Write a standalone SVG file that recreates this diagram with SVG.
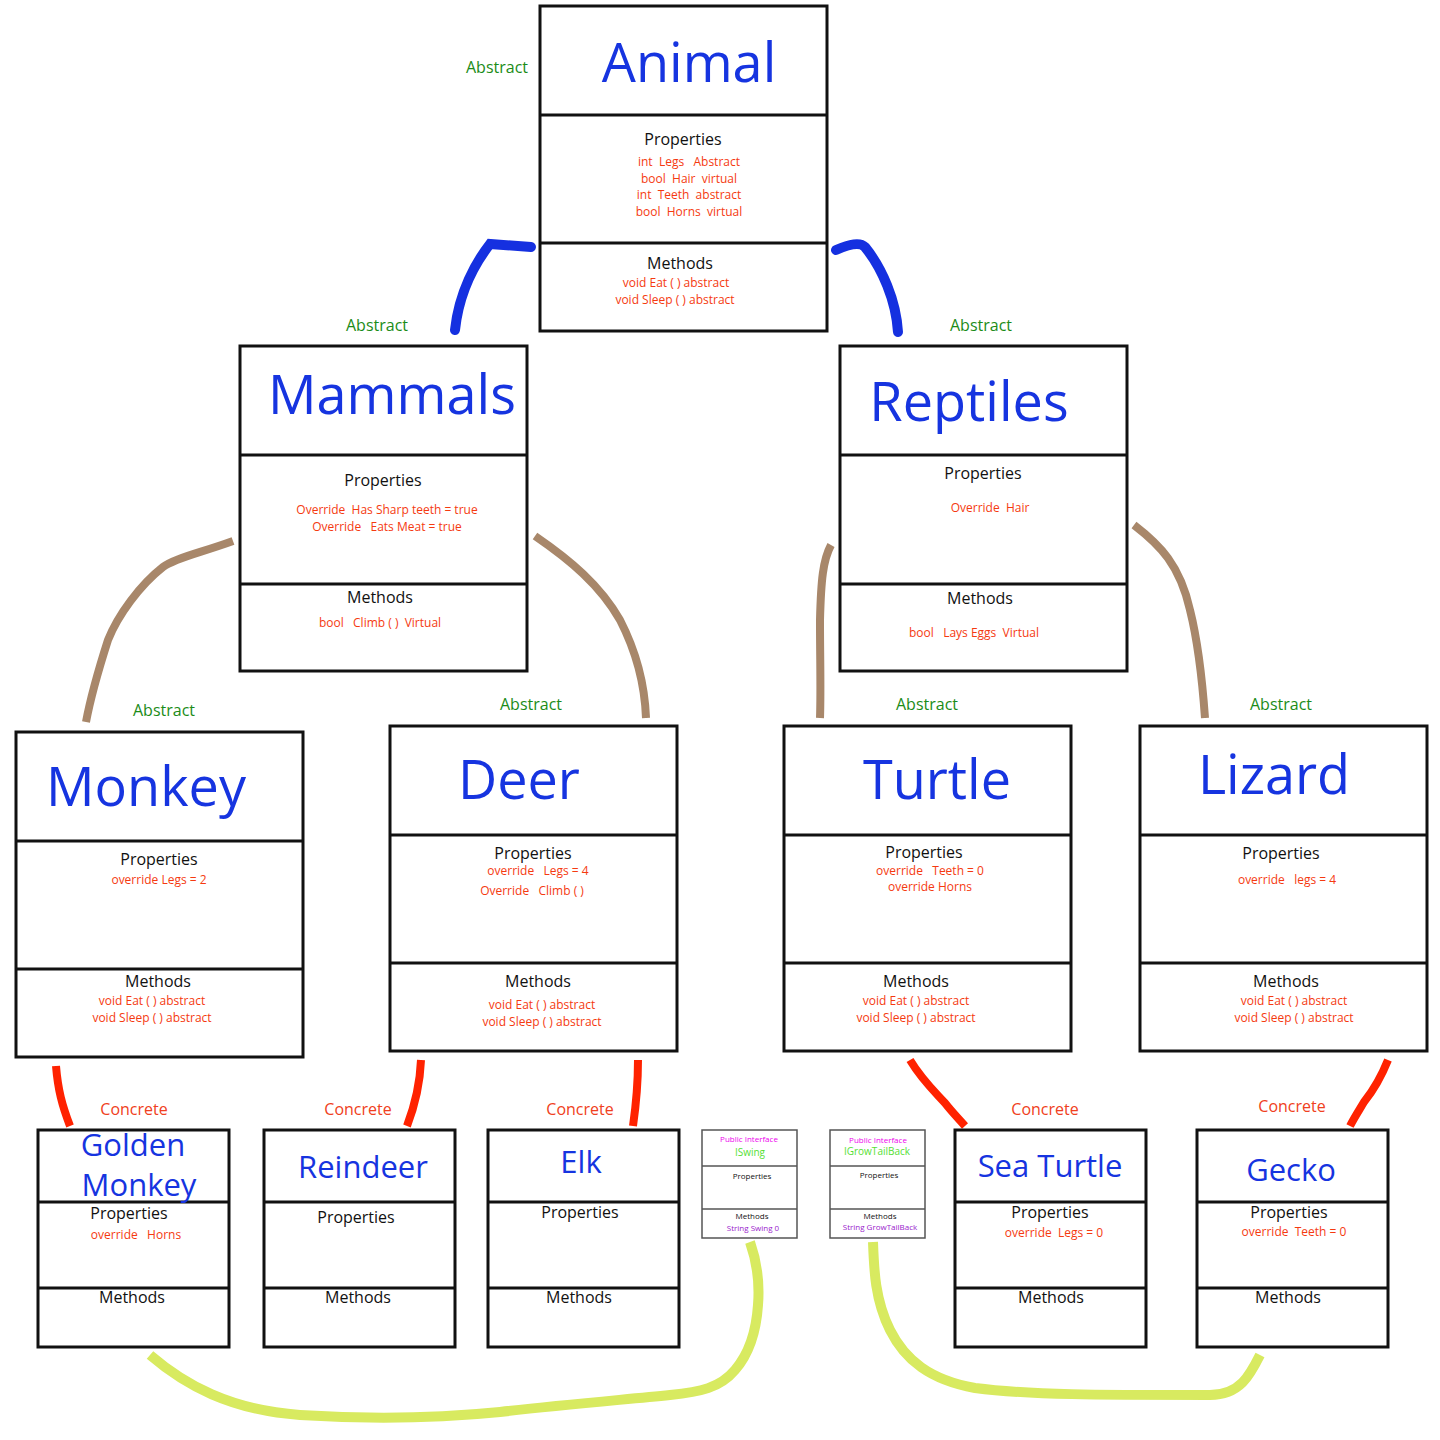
<svg xmlns="http://www.w3.org/2000/svg" width="1440" height="1440" viewBox="0 0 1440 1440">
<style>
text{font-family:"Open Sans","Noto Sans","Liberation Sans",sans-serif;text-anchor:middle;white-space:pre}
.box{fill:#fff;stroke:#111;stroke-width:3}
.sbox{fill:#fff;stroke:#555;stroke-width:1.5}
.div{stroke:#111;stroke-width:3}
.sdiv{stroke:#555;stroke-width:1.5}
.t{fill:#1634e0;font-size:54px}
.bt{fill:#1634e0;font-size:31px}
.h{fill:#111;font-size:16px}
.r{fill:#f53a10;font-size:12px}
.ab{fill:#1b8c18;font-size:16px}
.cc{fill:#f04020;font-size:16px}
.pi{fill:#ee00ee;font-size:8px}
.ig{fill:#55e033;font-size:10px}
.sh{fill:#111;font-size:8px}
.sm{fill:#9922cc;font-size:8px}
.blue{fill:none;stroke:#1530e0;stroke-width:10;stroke-linecap:round}
.brown{fill:none;stroke:#a8876a;stroke-width:8}
.red{fill:none;stroke:#ff2200;stroke-width:8}
.yel{fill:none;stroke:#d8ea60;stroke-width:10}
</style>

<g id="connectors">
<path class="blue" d="M531 247 L490 244 C476 262 459 292 455 330"/>
<path class="blue" d="M836 250 C850 244 860 242 865 247 C882 268 896 300 898 332"/>
<path class="brown" d="M233 541 C200 553 175 558 163 567 C140 585 118 615 108 640 C100 665 92 690 86 722"/>
<path class="brown" d="M535 536 C570 560 600 585 620 620 C638 655 645 690 646 718"/>
<path class="brown" d="M831 545 C823 560 821 580 820 620 C820 660 821 690 820 718"/>
<path class="brown" d="M1134 525 C1160 545 1180 565 1190 610 C1200 650 1203 690 1205 718"/>
<path class="red" d="M56 1066 C58 1090 62 1105 70 1126"/>
<path class="red" d="M421 1060 C420 1085 415 1105 407 1126"/>
<path class="red" d="M638 1060 C638 1085 636 1105 633 1126"/>
<path class="red" d="M910 1060 C922 1080 935 1092 945 1103 C952 1112 958 1118 965 1126"/>
<path class="red" d="M1388 1060 C1380 1080 1372 1092 1364 1102 C1358 1112 1354 1118 1350 1126"/>
<path class="yel" d="M750 1242 C757 1262 760 1280 758 1305 C756 1335 748 1355 735 1370 C720 1388 700 1392 670 1395 C620 1400 560 1405 500 1412 C440 1418 380 1420 300 1415 C230 1410 185 1385 150 1355"/>
<path class="yel" d="M873 1242 C874 1270 875 1300 890 1330 C905 1360 930 1380 975 1388 C1030 1395 1100 1395 1210 1395 C1240 1395 1250 1375 1260 1355"/>
</g>

<g id="animal">
<rect class="box" x="540" y="6" width="287" height="325"/>
<line class="div" x1="540" y1="115" x2="827" y2="115"/>
<line class="div" x1="540" y1="243" x2="827" y2="243"/>
<text class="ab" x="497" y="73">Abstract</text>
<text class="t" x="689" y="82">Animal</text>
<text class="h" x="683" y="145">Properties</text>
<text class="r" x="689" y="166">int  Legs   Abstract</text>
<text class="r" x="689" y="183">bool  Hair  virtual</text>
<text class="r" x="689" y="199">int  Teeth  abstract</text>
<text class="r" x="689" y="216">bool  Horns  virtual</text>
<text class="h" x="680" y="269">Methods</text>
<text class="r" x="676" y="287">void Eat ( ) abstract</text>
<text class="r" x="675" y="304">void Sleep ( ) abstract</text>
</g>

<g id="mammals">
<rect class="box" x="240" y="346" width="287" height="325"/>
<line class="div" x1="240" y1="455" x2="527" y2="455"/>
<line class="div" x1="240" y1="584" x2="527" y2="584"/>
<text class="ab" x="377" y="331">Abstract</text>
<text class="t" x="392" y="414">Mammals</text>
<text class="h" x="383" y="486">Properties</text>
<text class="r" x="387" y="514">Override  Has Sharp teeth = true</text>
<text class="r" x="387" y="531">Override   Eats Meat = true</text>
<text class="h" x="380" y="603">Methods</text>
<text class="r" x="380" y="627">bool   Climb ( )  Virtual</text>
</g>

<g id="reptiles">
<rect class="box" x="840" y="346" width="287" height="325"/>
<line class="div" x1="840" y1="455" x2="1127" y2="455"/>
<line class="div" x1="840" y1="584" x2="1127" y2="584"/>
<text class="ab" x="981" y="331">Abstract</text>
<text class="t" x="969" y="421">Reptiles</text>
<text class="h" x="983" y="479">Properties</text>
<text class="r" x="990" y="512">Override  Hair</text>
<text class="h" x="980" y="604">Methods</text>
<text class="r" x="974" y="637">bool   Lays Eggs  Virtual</text>
</g>

<g id="monkey">
<rect class="box" x="16" y="732" width="287" height="325"/>
<line class="div" x1="16" y1="841" x2="303" y2="841"/>
<line class="div" x1="16" y1="969" x2="303" y2="969"/>
<text class="ab" x="164" y="716">Abstract</text>
<text class="t" x="146" y="806">Monkey</text>
<text class="h" x="159" y="865">Properties</text>
<text class="r" x="159" y="884">override Legs = 2</text>
<text class="h" x="158" y="987">Methods</text>
<text class="r" x="152" y="1005">void Eat ( ) abstract</text>
<text class="r" x="152" y="1022">void Sleep ( ) abstract</text>
</g>

<g id="deer">
<rect class="box" x="390" y="726" width="287" height="325"/>
<line class="div" x1="390" y1="835" x2="677" y2="835"/>
<line class="div" x1="390" y1="963" x2="677" y2="963"/>
<text class="ab" x="531" y="710">Abstract</text>
<text class="t" x="519" y="799">Deer</text>
<text class="h" x="533" y="859">Properties</text>
<text class="r" x="538" y="875">override   Legs = 4</text>
<text class="r" x="532" y="895">Override   Climb ( )</text>
<text class="h" x="538" y="987">Methods</text>
<text class="r" x="542" y="1009">void Eat ( ) abstract</text>
<text class="r" x="542" y="1026">void Sleep ( ) abstract</text>
</g>

<g id="turtle">
<rect class="box" x="784" y="726" width="287" height="325"/>
<line class="div" x1="784" y1="835" x2="1071" y2="835"/>
<line class="div" x1="784" y1="963" x2="1071" y2="963"/>
<text class="ab" x="927" y="710">Abstract</text>
<text class="t" x="937" y="799">Turtle</text>
<text class="h" x="924" y="858">Properties</text>
<text class="r" x="930" y="875">override   Teeth = 0</text>
<text class="r" x="930" y="891">override Horns</text>
<text class="h" x="916" y="987">Methods</text>
<text class="r" x="916" y="1005">void Eat ( ) abstract</text>
<text class="r" x="916" y="1022">void Sleep ( ) abstract</text>
</g>

<g id="lizard">
<rect class="box" x="1140" y="726" width="287" height="325"/>
<line class="div" x1="1140" y1="835" x2="1427" y2="835"/>
<line class="div" x1="1140" y1="963" x2="1427" y2="963"/>
<text class="ab" x="1281" y="710">Abstract</text>
<text class="t" x="1274" y="794">Lizard</text>
<text class="h" x="1281" y="859">Properties</text>
<text class="r" x="1287" y="884">override   legs = 4</text>
<text class="h" x="1286" y="987">Methods</text>
<text class="r" x="1294" y="1005">void Eat ( ) abstract</text>
<text class="r" x="1294" y="1022">void Sleep ( ) abstract</text>
</g>

<g id="golden-monkey">
<rect class="box" x="38" y="1130" width="191" height="217"/>
<line class="div" x1="38" y1="1202" x2="229" y2="1202"/>
<line class="div" x1="38" y1="1288" x2="229" y2="1288"/>
<text class="cc" x="134" y="1115">Concrete</text>
<text class="bt" x="133" y="1156">Golden</text>
<text class="bt" x="139" y="1196">Monkey</text>
<text class="h" x="129" y="1219">Properties</text>
<text class="r" x="136" y="1239">override   Horns</text>
<text class="h" x="132" y="1303">Methods</text>
</g>

<g id="reindeer">
<rect class="box" x="264" y="1130" width="191" height="217"/>
<line class="div" x1="264" y1="1202" x2="455" y2="1202"/>
<line class="div" x1="264" y1="1288" x2="455" y2="1288"/>
<text class="cc" x="358" y="1115">Concrete</text>
<text class="bt" x="363" y="1178">Reindeer</text>
<text class="h" x="356" y="1223">Properties</text>
<text class="h" x="358" y="1303">Methods</text>
</g>

<g id="elk">
<rect class="box" x="488" y="1130" width="191" height="217"/>
<line class="div" x1="488" y1="1202" x2="679" y2="1202"/>
<line class="div" x1="488" y1="1288" x2="679" y2="1288"/>
<text class="cc" x="580" y="1115">Concrete</text>
<text class="bt" x="581" y="1173">Elk</text>
<text class="h" x="580" y="1218">Properties</text>
<text class="h" x="579" y="1303">Methods</text>
</g>

<g id="iswing">
<rect class="sbox" x="702" y="1130" width="95" height="108"/>
<line class="sdiv" x1="702" y1="1166" x2="797" y2="1166"/>
<line class="sdiv" x1="702" y1="1209" x2="797" y2="1209"/>
<text class="pi" x="749" y="1142">Public Interface</text>
<text class="ig" x="750" y="1156">ISwing</text>
<text class="sh" x="752" y="1179">Properties</text>
<text class="sh" x="752" y="1219">Methods</text>
<text class="sm" x="753" y="1231">String Swing 0</text>
</g>

<g id="igrowtailback">
<rect class="sbox" x="830" y="1130" width="95" height="108"/>
<line class="sdiv" x1="830" y1="1166" x2="925" y2="1166"/>
<line class="sdiv" x1="830" y1="1209" x2="925" y2="1209"/>
<text class="pi" x="878" y="1143">Public Interface</text>
<text class="ig" x="877" y="1155">IGrowTailBack</text>
<text class="sh" x="879" y="1178">Properties</text>
<text class="sh" x="880" y="1219">Methods</text>
<text class="sm" x="880" y="1230">String GrowTailBack</text>
</g>

<g id="sea-turtle">
<rect class="box" x="955" y="1130" width="191" height="217"/>
<line class="div" x1="955" y1="1202" x2="1146" y2="1202"/>
<line class="div" x1="955" y1="1288" x2="1146" y2="1288"/>
<text class="cc" x="1045" y="1115">Concrete</text>
<text class="bt" x="1050" y="1177">Sea Turtle</text>
<text class="h" x="1050" y="1218">Properties</text>
<text class="r" x="1054" y="1237">override  Legs = 0</text>
<text class="h" x="1051" y="1303">Methods</text>
</g>

<g id="gecko">
<rect class="box" x="1197" y="1130" width="191" height="217"/>
<line class="div" x1="1197" y1="1202" x2="1388" y2="1202"/>
<line class="div" x1="1197" y1="1288" x2="1388" y2="1288"/>
<text class="cc" x="1292" y="1112">Concrete</text>
<text class="bt" x="1291" y="1181">Gecko</text>
<text class="h" x="1289" y="1218">Properties</text>
<text class="r" x="1294" y="1236">override  Teeth = 0</text>
<text class="h" x="1288" y="1303">Methods</text>
</g>
</svg>
